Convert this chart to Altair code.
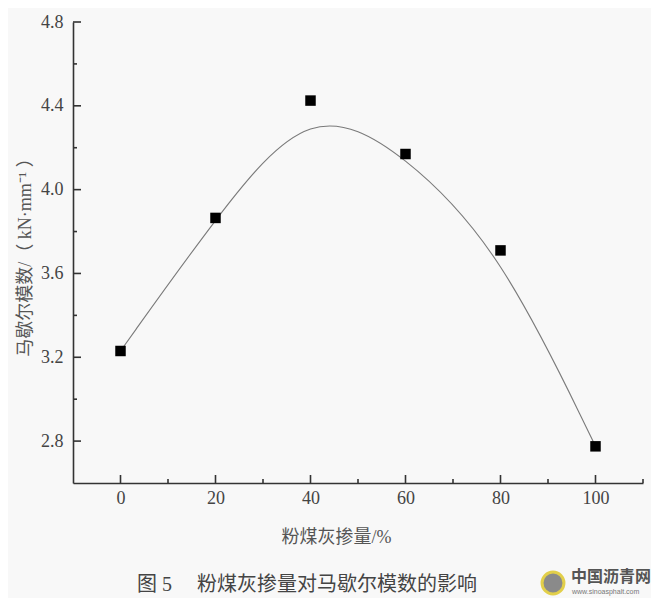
import altair as alt
import pandas as pd

fly_ash = [0, 20, 40, 60, 80, 100]
marshall_modulus = [3.23, 3.865, 4.425, 4.17, 3.71, 2.775]

x_major = [0, 20, 40, 60, 80, 100]
x_minor = [10, 30, 50, 70, 90, 110]
y_major = [2.8, 3.2, 3.6, 4.0, 4.4, 4.8]
y_minor = [3.0, 3.4, 3.8, 4.2, 4.6]

caption = ["图 5\u3000\u2005粉煤灰掺量对马歇尔模数的影响"]
logo_text = ["中国沥青网"]
logo_url = ["www.sinoasphalt.com"]

W, H = 570, 461
FONT = "Liberation Serif, Noto Sans CJK SC"
TICK = "#333333"

df = pd.DataFrame({"x": fly_ash, "y": marshall_modulus})
xs = alt.Scale(domain=[-10, 110], nice=False, zero=False)
ys = alt.Scale(domain=[2.6, 4.8], nice=False, zero=False)

x_axis = alt.Axis(
    title="粉煤灰掺量/%",
    values=x_major,
    ticks=False,
    tickSize=0,
    labelPadding=6,
    grid=False,
    titlePadding=21,
    titleX=263,
)
y_axis = alt.Axis(
    title="马歇尔模数/（ kN·mm⁻¹ ）",
    values=y_major,
    format=".1f",
    ticks=False,
    tickSize=0,
    labelPadding=10,
    grid=False,
    titlePadding=6,
)

curve = (
    alt.Chart(df)
    .mark_line(color="#7a7a7a", strokeWidth=1.1, interpolate="basis")
    .encode(x=alt.X("x:Q", scale=xs, axis=x_axis), y=alt.Y("y:Q", scale=ys, axis=y_axis))
)
points = alt.Chart(df).mark_square(size=110, color="black", opacity=1, filled=True).encode(
    x=alt.X("x:Q", scale=xs, axis=x_axis), y=alt.Y("y:Q", scale=ys, axis=y_axis)
)


def xticks(vals, length):
    return alt.Chart(pd.DataFrame({"x": vals})).mark_rule(color=TICK, strokeWidth=1.6).encode(
        x=alt.X("x:Q", scale=xs, axis=x_axis), y=alt.value(H), y2=alt.value(H - length)
    )


def yticks(vals, length):
    return alt.Chart(pd.DataFrame({"y": vals})).mark_rule(color=TICK, strokeWidth=1.6).encode(
        y=alt.Y("y:Q", scale=ys, axis=y_axis), x=alt.value(0), x2=alt.value(length)
    )


cap = alt.Chart(pd.DataFrame({"t": caption})).mark_text(
    font=FONT, fontSize=20, color="#444444", align="left", baseline="alphabetic"
).encode(text="t:N", x=alt.value(64), y=alt.value(569))

logo_circle = alt.Chart(pd.DataFrame({"t": logo_text})).mark_point(
    shape="circle", size=480, filled=True, color="#8a8a8a", stroke="#e2cf4a", strokeWidth=3, opacity=1
).encode(x=alt.value(480), y=alt.value(561))

watermark = alt.Chart(pd.DataFrame({"t": logo_text})).mark_text(
    font="Noto Sans CJK SC", fontSize=16, fontWeight="bold", color="#555555", align="left", baseline="middle"
).encode(text="t:N", x=alt.value(498), y=alt.value(555))

watermark_url = alt.Chart(pd.DataFrame({"t": logo_url})).mark_text(
    font="Liberation Sans", fontSize=7, color="#777777", align="left", baseline="middle"
).encode(text="t:N", x=alt.value(499), y=alt.value(570))

chart = (
    alt.layer(
        curve,
        points,
        xticks(x_major, 8),
        xticks(x_minor, 4),
        yticks(y_major, 8),
        yticks(y_minor, 4),
        cap,
        logo_circle,
        watermark,
        watermark_url,
    )
    .properties(
        width=W,
        height=H,
        background="#f8f8f8",
        padding={"left": 65, "top": 14, "right": 8, "bottom": 115},
        autosize=alt.AutoSizeParams(type="none"),
    )
    .configure_view(stroke=None)
    .configure_axis(
        domainColor=TICK,
        domainWidth=1.6,
        labelFont=FONT,
        labelFontSize=18,
        labelColor="#444444",
        titleFont=FONT,
        titleFontSize=18,
        titleFontWeight="normal",
        titleColor="#555555",
    )
)

chart.save("out.html", embed_options={"renderer": "svg", "actions": False})
